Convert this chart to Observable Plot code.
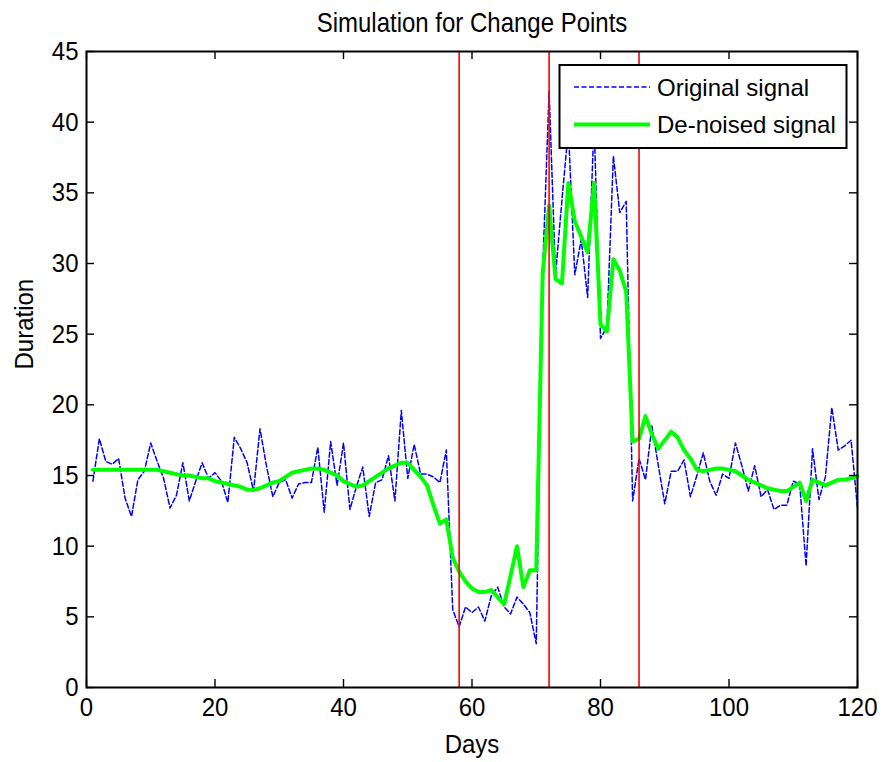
<!DOCTYPE html>
<html><head><meta charset="utf-8">
<script src="https://cdn.jsdelivr.net/npm/d3@7"></script>
<script src="https://cdn.jsdelivr.net/npm/@observablehq/plot@0.6"></script>
<style>html,body{margin:0;padding:0;background:#fff;overflow:hidden} svg{display:block}</style>
</head><body><div id="chart"></div>
<script>
// Day index 1..120
const days = d3.range(1, 121);

// Original (noisy) signal
const originalSignal = [
  14.6,17.6,16.0,15.8,16.2,13.4,12.1,14.7,15.3,17.3,
  16.0,14.8,12.7,13.6,15.9,13.2,14.6,15.9,14.8,15.2,
  14.6,13.1,17.7,16.9,15.9,13.9,18.3,15.7,13.5,14.5,
  14.7,13.4,14.4,14.5,14.5,17.0,12.4,17.4,14.3,17.3,
  12.6,14.2,15.6,12.1,14.5,14.7,16.4,13.2,19.6,14.8,
  17.2,15.1,15.1,14.9,14.5,16.8,5.5,4.3,5.7,5.3,
  5.7,4.7,6.5,7.1,5.7,5.2,6.4,5.9,5.3,3.1,
  29.5,42.2,29.2,34.5,39.5,29.2,31.7,27.6,40.0,24.7,
  25.5,37.6,33.6,34.4,13.2,16.2,14.7,18.5,15.7,13.0,
  15.3,15.3,16.1,13.5,15.0,16.6,14.6,13.6,15.1,14.8,
  17.3,15.7,13.9,15.7,13.5,14.0,12.6,12.9,12.9,14.6,
  14.4,8.6,16.9,13.3,14.9,19.8,16.8,17.1,17.5,12.7
];

// De-noised signal
const denoisedSignal = [
  15.4,15.4,15.4,15.4,15.4,15.4,15.4,15.4,15.4,15.4,
  15.4,15.3,15.2,15.1,15.0,15.0,14.9,14.8,14.8,14.6,
  14.5,14.4,14.3,14.2,14.0,14.0,14.1,14.3,14.5,14.6,
  14.9,15.2,15.3,15.4,15.5,15.5,15.4,15.2,15.0,14.6,
  14.4,14.2,14.3,14.6,14.9,15.2,15.5,15.7,15.9,15.9,
  15.4,14.9,14.3,12.9,11.6,11.9,9.2,8.2,7.5,7.0,
  6.75,6.75,6.9,6.4,5.9,7.9,10.0,7.1,8.3,8.3,
  29.3,34.1,28.9,28.6,35.7,33.0,31.9,30.8,35.7,25.7,
  25.2,30.3,29.5,28.0,17.4,17.6,19.2,17.9,16.9,17.5,
  18.1,17.7,16.8,16.2,15.4,15.3,15.4,15.5,15.5,15.4,
  15.3,15.0,14.7,14.5,14.3,14.1,14.0,13.9,13.9,14.2,
  14.5,13.2,14.7,14.5,14.3,14.5,14.7,14.7,14.8,14.95
];

const changePoints = [58, 72, 86];
const xTicks = [0, 20, 40, 60, 80, 100, 120];
const yTicks = [0, 5, 10, 15, 20, 25, 30, 35, 40, 45];
const legendLabels = ["Original signal", "De-noised signal"];
const titleText = "Simulation for Change Points";
const xLabel = "Days";
const yLabel = "Duration";

const origData = days.map((d, i) => ({day: d, value: originalSignal[i]}));
const denData = days.map((d, i) => ({day: d, value: denoisedSignal[i]}));

const W = 885, H = 762, mL = 86, mR = 28, mT = 51, mB = 75;
const iw = W - mL - mR, ih = H - mT - mB, tl = 8;

const chart = Plot.plot({
  width: W, height: H,
  marginLeft: mL, marginRight: mR, marginTop: mT, marginBottom: mB,
  style: {fontFamily: '"Liberation Sans", Arial, sans-serif', fontSize: "24px", background: "#fff", color: "#000", overflow: "visible"},
  x: {domain: [0, 120], label: null},
  y: {domain: [0, 45], label: null},
  marks: [
    Plot.lineY(origData, {x: "day", y: "value", stroke: "#0000ff", strokeWidth: 1.5, strokeDasharray: "5,2.5"}),
    Plot.lineY(denData, {x: "day", y: "value", stroke: "#00ff00", strokeWidth: 4}),
    Plot.ruleX(changePoints, {x: d => d, stroke: "#ff0000", strokeWidth: 1.6}),
    Plot.tickX(xTicks, {x: d => d, insetTop: ih - tl, stroke: "#000", strokeWidth: 1.4}),
    Plot.tickX(xTicks, {x: d => d, insetBottom: ih - tl, stroke: "#000", strokeWidth: 1.4}),
    Plot.tickY(yTicks, {y: d => d, insetRight: iw - tl, stroke: "#000", strokeWidth: 1.4}),
    Plot.tickY(yTicks, {y: d => d, insetLeft: iw - tl, stroke: "#000", strokeWidth: 1.4}),
    Plot.frame({stroke: "#000", strokeWidth: 2}),
    Plot.axisX(xTicks, {tickSize: 0, tickPadding: 10, fill: "#000", label: null}),
    Plot.axisY(yTicks, {tickSize: 0, tickPadding: 8, fill: "#000", label: null}),
    Plot.text([titleText], {frameAnchor: "top", lineAnchor: "middle", dy: -29, fill: "#000", fontSize: 24}),
    Plot.text([xLabel], {frameAnchor: "bottom", lineAnchor: "middle", dy: 57, fill: "#000", fontSize: 24}),
    Plot.text([yLabel], {frameAnchor: "left", lineAnchor: "middle", dx: -62, rotate: -90, fill: "#000", fontSize: 24})
  ]
});

const svg = d3.select(chart);
// vertical glyph stretch to mimic the reference's text proportions
svg.selectAll("text").each(function() {
  const t = this.textContent;
  let k = 1.1;
  if (t === titleText) k = 1.18;
  const tr = this.getAttribute("transform") || "";
  this.setAttribute("transform", tr + ` scale(1,${k})`);
});

// Legend box
const lg = svg.append("g");
lg.append("rect").attr("x", 559.5).attr("y", 65).attr("width", 287).attr("height", 83)
  .attr("fill", "#fff").attr("stroke", "#000").attr("stroke-width", 2);
const legendStyles = [
  {stroke: "#0000ff", width: 1.5, dash: "5,2.5", y: 87},
  {stroke: "#00ff00", width: 4, dash: null, y: 124.5}
];
legendLabels.forEach((lab, i) => {
  const s = legendStyles[i];
  lg.append("line").attr("x1", 574).attr("x2", 650).attr("y1", s.y).attr("y2", s.y)
    .attr("stroke", s.stroke).attr("stroke-width", s.width).attr("stroke-dasharray", s.dash);
  lg.append("text").attr("x", 657).attr("y", s.y).attr("dy", "0.36em")
    .attr("text-anchor", "start").attr("font-size", 24).attr("fill", "#000").text(lab);
});

document.getElementById("chart").appendChild(chart);
</script>
</body></html>
